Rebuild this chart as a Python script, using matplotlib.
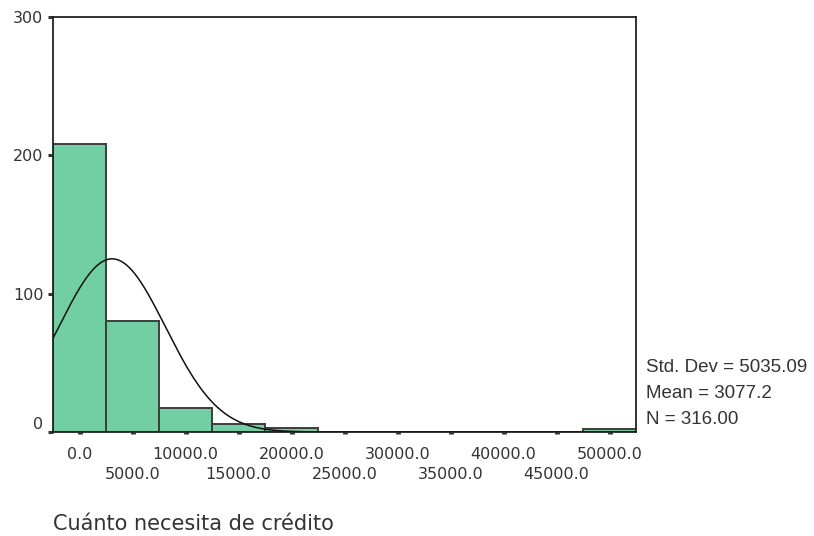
import numpy as np
import matplotlib
matplotlib.use("Agg")
import matplotlib.pyplot as plt

plt.rcParams['font.family'] = ['DejaVu Sans']

# histogram of credit needed (bin width 5000, centred on multiples of 5000)
bin_centers = [0, 5000, 10000, 15000, 20000, 50000]
counts = [208, 80, 17, 6, 3, 2]
bin_width = 5000

std_dev = 5035.09
mean = 3077.2
n = 316

major_ticks = [0, 10000, 20000, 30000, 40000, 50000]
minor_ticks = [5000, 15000, 25000, 35000, 45000]
y_ticks = [0, 100, 200, 300]

txt = '#333333'

fig = plt.figure(figsize=(8.14, 5.36), dpi=100)
ax = fig.add_axes([53 / 814, 1 - 432 / 536, (636 - 53) / 814, (432 - 17) / 536])

ax.bar(bin_centers, counts, width=bin_width, color='#72cfa3',
       edgecolor='#3d3d3d', linewidth=1.4, zorder=2)

# normal curve scaled to counts
xs = np.linspace(-2500, 52500, 600)
ys = n * bin_width / (std_dev * np.sqrt(2 * np.pi)) * np.exp(-0.5 * ((xs - mean) / std_dev) ** 2)
ax.plot(xs, ys, color='#111111', linewidth=1.1, zorder=3)

ax.set_xlim(-2500, 52500)
ax.set_ylim(0, 300)

for s in ax.spines.values():
    s.set_color('#222222')
    s.set_linewidth(1.3)

ax.set_xticks(major_ticks)
ax.set_xticklabels([f'{v:.1f}' for v in major_ticks])
ax.set_xticks(minor_ticks, minor=True)
ax.set_xticklabels([f'{v:.1f}' for v in minor_ticks], minor=True)
ax.tick_params(axis='x', which='major', direction='out', length=1.5, width=3.5,
               color='#333333', pad=9, labelsize=11.5, labelcolor=txt)
ax.tick_params(axis='x', which='minor', direction='out', length=1.5, width=3.5,
               color='#333333', pad=24, labelsize=11.5, labelcolor=txt)

ax.set_yticks(y_ticks)
ax.set_yticklabels([str(v) for v in y_ticks])
ax.tick_params(axis='y', direction='out', length=3.5, width=2.2,
               color='#333333', pad=3.5, labelsize=11.5, labelcolor=txt)
ax.get_yticklabels()[0].set_verticalalignment('bottom')

# summary statistics on the right
stats = [f'Std. Dev = {std_dev:.2f}', f'Mean = {mean:.1f}', f'N = {n:.2f}']
for i, s in enumerate(stats):
    fig.text(646 / 814, 1 - (367 + 26 * i) / 536, s, fontsize=13.5,
             family='Liberation Sans', color=txt, va='center', ha='left')

fig.text(53 / 814, 1 - 524 / 536, 'Cuánto necesita de crédito', fontsize=15,
         color=txt, va='center', ha='left')

fig.savefig('out.png', dpi=100, facecolor='white')
